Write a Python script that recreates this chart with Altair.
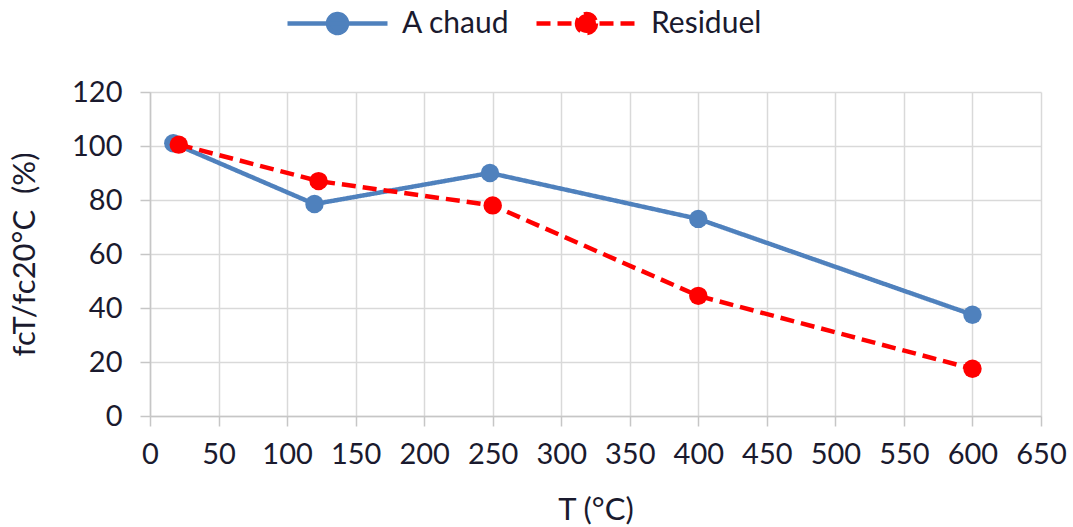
import altair as alt
import pandas as pd

# Strength ratio fcT/fc20°C versus temperature, hot vs. residual tests
series_names = ["A chaud", "Residuel"]
temp_hot = [17, 120, 248, 400, 600]
ratio_hot = [101, 78.5, 90, 73, 37.5]
temp_res = [21, 123, 250, 400, 600]
ratio_res = [100.5, 87, 78, 44.5, 17.5]

x_ticks = list(range(0, 651, 50))
y_ticks = list(range(0, 121, 20))

df = pd.concat([
    pd.DataFrame({"T": temp_hot, "ratio": ratio_hot, "serie": series_names[0]}),
    pd.DataFrame({"T": temp_res, "ratio": ratio_res, "serie": series_names[1]}),
])

FONT = "Lato"
TXT = "#1a1a2e"
colors = ["#4F81BD", "#FF0000"]
dashes = [[1, 0], [14, 7]]

# legend glyph: a horizontal stroke with a dot in the middle
glyph = "M -1 0 L 1 0 M 0.19 0 A 0.19 0.19 0 1 1 -0.19 0 A 0.19 0.19 0 1 1 0.19 0 Z"

x = alt.X("T:Q", scale=alt.Scale(domain=[0, 650], nice=False),
          axis=alt.Axis(values=x_ticks, title="T (°C)", titlePadding=26, labelFlush=False))
y = alt.Y("ratio:Q", scale=alt.Scale(domain=[0, 120], nice=False),
          axis=alt.Axis(values=y_ticks, title="fcT/fc20°C\u00a0\u00a0(%)", titlePadding=30))
color = alt.Color("serie:N", scale=alt.Scale(domain=series_names, range=colors),
                  legend=alt.Legend(title=None, orient="none", direction="horizontal",
                                    legendX=135, legendY=-121, symbolType=glyph,
                                    symbolSize=10000, symbolStrokeWidth=4.5,
                                    symbolFillColor=None, labelOffset=12,
                                    columnPadding=17))
dash = alt.StrokeDash("serie:N", scale=alt.Scale(domain=series_names, range=dashes),
                      legend=None)

lines = alt.Chart(df).mark_line(strokeWidth=4.5).encode(x=x, y=y, color=color, strokeDash=dash,
                                                         detail="serie:N")
points = alt.Chart(df).mark_circle(size=340, opacity=1).encode(
    x=x, y=y, color=alt.Color("serie:N", scale=alt.Scale(domain=series_names, range=colors),
                              legend=None))

chart = alt.layer(lines, points).properties(
    width=891, height=324,
    autosize=alt.AutoSizeParams(type="none"),
    padding={"left": 150, "top": 92, "right": 32, "bottom": 111},
).configure_view(stroke=None).configure_axis(
    labelFont=FONT, titleFont=FONT, labelFontSize=29, titleFontSize=31,
    labelColor=TXT, titleColor=TXT, titleFontWeight="normal",
    gridColor="#d9d9d9", gridWidth=1.5, domainColor="#c6c6c6", domainWidth=1.5,
    tickColor="#c6c6c6", tickWidth=1.5, tickSize=10,
).configure_axisX(labelPadding=14).configure_axisY(labelPadding=18).configure_legend(
    labelFont=FONT, labelFontSize=30, labelColor=TXT,
)

chart.save("out.html", embed_options={"renderer": "svg", "actions": False})
